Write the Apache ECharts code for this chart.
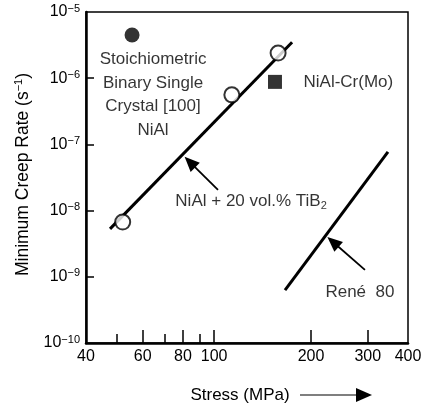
<!DOCTYPE html>
<html><head><meta charset="utf-8">
<script src="https://cdn.jsdelivr.net/npm/echarts@6/dist/echarts.min.js"></script>
<style>html,body{margin:0;padding:0;background:#fff}#c{width:422px;height:405px}</style>
</head><body><div id="c"></div>
<script>
// ---- data ----
const xTickLabels = [40, 60, 80, 100, 200, 300, 400];
const xMajorTicks = [60, 80, 100, 200, 300];
const xMinorTicks = [50, 70, 90];
const yTickLabels = [1e-10, 1e-9, 1e-8, 1e-7, 1e-6, 1e-5];
const yTicks = [1e-9, 1e-8, 1e-7, 1e-6];
const stoichNiAl = [[55.6, 4.5e-6]];
const niAlCrMo = [[154.5, 8.8e-7]];
const tib2Points = [[52, 6.7e-9], [113.5, 5.6e-7], [158, 2.4e-6]];
const tib2Fit = [[47.5, 5.3e-9], [174.6, 3.5e-6]];
const rene80Fit = [[166, 6.3e-10], [346.6, 7.7e-8]];
// annotation anchors (data units)
const textStoich = 'Stoichiometric\nBinary Single\nCrystal [100]\nNiAl';
const textCrMo = 'NiAl-Cr(Mo)';
const textTiB2 = '{a|NiAl + 20 vol.% TiB}{sub|2}';
const textRene = 'René  80';
const anchorStoich = [64.6, 5.57e-7];
const anchorCrMo = [188.8, 8.77e-7];
const anchorTiB2 = [75.5, 1.40e-8];
const anchorRene = [220.8, 5.89e-10];
const arrowTiB2 = [[102.8, 2.05e-8], [84.1, 5.4e-8]];
const arrowRene = [[294, 1.27e-9], [234, 3.36e-9]];

const FONT = '"Liberation Sans", Arial, Helvetica, sans-serif';
const INK = '#000';
const chart = echarts.init(document.getElementById('c'), null, {renderer: 'canvas'});
const txt = {fontFamily: FONT, color: INK, fontSize: 17};

function annot(pos, text, position, extra) {
  return {value: pos, label: Object.assign({show: true, formatter: text, position: position, distance: 0}, txt, extra || {})};
}

chart.setOption({
  animation: false,
  backgroundColor: '#fff',
  grid: {left: 86, right: 14, top: 12, bottom: 62, show: true, borderColor: '#000', borderWidth: 1.5,
         containLabel: false, outerBoundsMode: 'none'},
  xAxis: [{
    type: 'log', logBase: 10, min: 40, max: 400,
    axisLine: {lineStyle: {color: '#000', width: 2.5}},
    axisTick: {inside: true, length: 13, lineStyle: {color: '#000', width: 1.5}, customValues: xMajorTicks},
    axisLabel: {customValues: xTickLabels, margin: 6, fontFamily: FONT, fontSize: 16, color: INK, showMinLabel: true, showMaxLabel: true},
    splitLine: {show: false}, minorTick: {show: false},
    name: 'Stress (MPa)', nameLocation: 'middle', nameGap: 44,
    nameTextStyle: {fontFamily: FONT, fontSize: 17, color: INK, padding: [0, 14, 0, 0]}
  }, {
    type: 'log', logBase: 10, min: 40, max: 400, position: 'bottom',
    axisLine: {show: false},
    axisTick: {inside: true, length: 9, lineStyle: {color: '#000', width: 1.5}, customValues: xMinorTicks},
    axisLabel: {show: false}, splitLine: {show: false}
  }],
  yAxis: {
    type: 'log', logBase: 10, min: 1e-10, max: 1e-5,
    axisLine: {lineStyle: {color: '#000', width: 2.5}},
    axisTick: {inside: true, length: 8, lineStyle: {color: '#000', width: 1.5}, customValues: yTicks},
    axisLabel: {
      customValues: yTickLabels, margin: 6, showMinLabel: true, showMaxLabel: true,
      formatter: function (v) { const e = Math.round(Math.log10(v)); return '{b|10}{s|\u2212' + (-e) + '}'; },
      rich: {
        b: {fontFamily: FONT, fontSize: 16, color: INK, lineHeight: 18},
        s: {fontFamily: FONT, fontSize: 11, color: INK, verticalAlign: 'top', lineHeight: 12}
      }
    },
    splitLine: {show: false}, minorTick: {show: false},
    name: '{a|Minimum Creep Rate (s}{s|\u22121}{a|)}', nameLocation: 'middle', nameGap: 50, nameRotate: 90,
    nameTextStyle: {
      padding: [0, 0, 0, 6],
      rich: {
        a: {fontFamily: FONT, fontSize: 17.5, color: INK, lineHeight: 20},
        s: {fontFamily: FONT, fontSize: 11, color: INK, verticalAlign: 'top', lineHeight: 12}
      }
    }
  },
  series: [
    {name: 'TiB2 fit', type: 'line', data: tib2Fit, symbol: 'none', lineStyle: {color: '#000', width: 3}, silent: true, z: 2,
     markLine: {silent: true, symbol: ['none', 'triangle'], symbolSize: [13, 15], label: {show: false},
       lineStyle: {color: '#000', width: 1.8, type: 'solid'},
       data: [
         [{coord: arrowTiB2[0]}, {coord: arrowTiB2[1]}],
         [{coord: arrowRene[0]}, {coord: arrowRene[1]}]
       ]}},
    {name: 'René 80', type: 'line', data: rene80Fit, symbol: 'none', lineStyle: {color: '#000', width: 3}, silent: true, z: 2},
    {name: 'NiAl + 20 vol.% TiB2', type: 'scatter', data: tib2Points, symbol: 'circle', symbolSize: 15,
     itemStyle: {color: '#fff', borderColor: '#000', borderWidth: 2}, z: 3, silent: true},
    {name: 'Stoichiometric NiAl', type: 'scatter', data: stoichNiAl, symbol: 'circle', symbolSize: 15,
     itemStyle: {color: '#000'}, z: 3, silent: true},
    {name: 'NiAl-Cr(Mo)', type: 'scatter', data: niAlCrMo, symbol: 'rect', symbolSize: 14,
     itemStyle: {color: '#000'}, z: 3, silent: true},
    {name: 'labels', type: 'scatter', symbolSize: 1, itemStyle: {color: 'rgba(0,0,0,0)'}, silent: true, z: 4,
     data: [
       annot(anchorStoich, textStoich, 'inside', {lineHeight: 23.5, align: 'center'}),
       annot(anchorCrMo, textCrMo, 'right'),
       annot(anchorTiB2, textTiB2, 'right', {rich: {
         a: {fontFamily: FONT, fontSize: 17, color: INK, lineHeight: 22},
         sub: {fontFamily: FONT, fontSize: 11, color: INK, verticalAlign: 'bottom', lineHeight: 13}}}),
       annot(anchorRene, textRene, 'right')
     ]}
  ],
  graphic: [
    {type: 'line', shape: {x1: 300, y1: 395, x2: 358, y2: 395}, style: {stroke: '#000', lineWidth: 1.2}, silent: true},
    {type: 'polygon', shape: {points: [[356, 388], [372, 395], [356, 402]]}, style: {fill: '#000'}, silent: true}
  ]
});
</script>
</body></html>
